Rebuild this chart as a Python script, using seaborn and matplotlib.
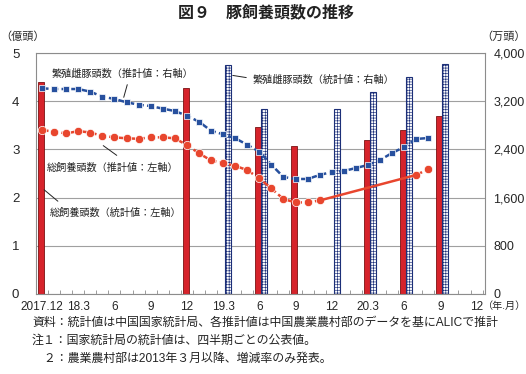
import numpy as np
import pandas as pd
import seaborn as sns
import matplotlib.pyplot as plt

# month index: 0 = 2017.12, one step per month
months = list(range(0, 33))

# 繁殖雌豚頭数（推計値、万頭）
sow_est = [3414, 3402, 3402, 3402, 3358, 3275, 3237, 3182, 3142, 3120, 3076, 3037,
           2959, 2860, 2710, 2651, 2584, 2478, 2362, 2146, 1942, 1909, 1909, 1975,
           2025, 2041, 2091, 2141, 2224, 2340, 2440, 2573, 2589]

# 総飼養頭数（推計値、億頭）; None = no monthly estimate
total_est = [3.40, 3.37, 3.33, 3.38, 3.35, 3.28, 3.25, 3.23, 3.22, 3.25, 3.25, 3.23,
             3.09, 2.92, 2.77, 2.72, 2.66, 2.57, 2.40, 2.19, 1.97, 1.90, 1.90, 1.94,
             None, None, None, None, None, None, None, 2.47, 2.59]

# 統計値 (quarterly, NBS)
total_stat_months = [0, 12, 18, 21, 27, 30, 33]
total_stat = [4.40, 4.27, 3.46, 3.07, 3.19, 3.40, 3.69]
sow_stat_months = [15, 18, 24, 27, 30, 33]
sow_stat = [3801, 3066, 3066, 3358, 3607, 3812]

tick_months = list(range(0, 37, 3))
tick_labels = ['2017.12', '18.3', '6', '9', '12', '19.3', '6', '9', '12',
               '20.3', '6', '9', '12']

RED = '#d6232b'
RED_LINE = '#e8462e'
BLUE = '#27509e'
NAVY = '#1c2f78'
GRAY = '#8c8c8c'

sns.set_theme(style='white')
plt.rcParams['font.family'] = ['Liberation Sans', 'Noto Sans CJK JP']
plt.rcParams['hatch.linewidth'] = 0.45
plt.rcParams['hatch.color'] = '#4a66b0'

W, H = 526, 374
fig = plt.figure(figsize=(W / 100, H / 100), dpi=100)


def px(x, y):
    return x / W, 1 - y / H


left, right, top, bottom = 36, 485, 53, 294
pos = [left / W, 1 - bottom / H, (right - left) / W, (bottom - top) / H]
ax = fig.add_axes(pos)
ax2 = ax.twinx()
ax3 = ax.twinx()

# bars
ax.bar(np.array(total_stat_months) - 0.1, total_stat, width=0.5, color=RED,
       edgecolor='#7a1212', linewidth=0.6, zorder=2)
ax2.bar(np.array(sow_stat_months) + 0.4, sow_stat, width=0.5, color='white',
        edgecolor=NAVY, linewidth=0.8, hatch='++++++', zorder=2)

# blue estimate line (right axis)
df_sow = pd.DataFrame({'m': months, 'v': sow_est})
sns.lineplot(data=df_sow, x='m', y='v', ax=ax2, color=BLUE, linewidth=1.8,
             linestyle=(0, (2.6, 1.3)), marker='s', markersize=5,
             markeredgecolor='white', markeredgewidth=0.5, zorder=5)

# red estimate line (left axis), split where monthly data is missing
df_tot = pd.DataFrame({'m': months, 'v': total_est}).astype(float)
runs = (df_tot['v'].isna() != df_tot['v'].isna().shift()).cumsum()
for _, seg in df_tot.dropna().groupby(runs[df_tot['v'].notna()]):
    sns.lineplot(data=seg, x='m', y='v', ax=ax3, color=RED_LINE, linewidth=1.8,
                 linestyle=(0, (2.6, 1.3)), marker='o', markersize=6,
                 markeredgecolor='white', markeredgewidth=0.5)
valid = df_tot.dropna()
gap = valid[valid['m'].diff() > 1].index[0]
prev = valid.index[valid.index.get_loc(gap) - 1]
sns.lineplot(x=[df_tot.loc[prev, 'm'], df_tot.loc[gap, 'm']],
             y=[df_tot.loc[prev, 'v'], df_tot.loc[gap, 'v']],
             ax=ax3, color=RED_LINE, linewidth=1.8)

# axes
for a in (ax, ax3):
    a.set_xlim(-0.25, 36.7)
    a.set_ylim(0, 5)
ax2.set_ylim(0, 4000)
ax3.axis('off')
for a in (ax, ax2, ax3):
    a.set_xlabel('')
    a.set_ylabel('')

ax.set_axisbelow(True)
ax.yaxis.grid(True, color='#a0a0a0', linewidth=0.8)
ax.set_yticks(range(6))
ax.tick_params(axis='y', length=0, pad=12, labelsize=9.5)
ax.set_xticks(tick_months, tick_labels)
ax.set_xticks(np.arange(-0.5, 37, 1), minor=True)
ax.tick_params(axis='x', which='major', length=0, pad=5, labelsize=8.5)
ax.tick_params(axis='x', which='minor', direction='in', length=3, width=0.6,
               color=GRAY, bottom=True)
ax2.set_yticks(range(0, 4001, 800), ['0', '800', '1,600', '2,400', '3,200', '4,000'])
ax2.tick_params(axis='y', length=0, pad=6, labelsize=9)
for s in ax.spines.values():
    s.set_visible(False)
for s in ax2.spines.values():
    s.set_color(GRAY)
    s.set_linewidth(0.8)

# titles and unit labels
fig.text(*px(266, 12), '図９　豚飼養頭数の推移', ha='center', va='center',
         fontsize=11.5, fontweight='bold', color='#222222')
fig.text(*px(0, 37), '（億頭）', ha='left', va='center', fontsize=8)
fig.text(*px(526, 37), '（万頭）', ha='right', va='center', fontsize=8)
fig.text(*px(526, 306), '（年.月）', ha='right', va='center', fontsize=7.3)

# series labels with leader lines
notes = [
    ('繁殖雌豚頭数（推計値：右軸）', (52, 74), (128, 82), (123, 100)),
    ('繁殖雌豚頭数（統計値：右軸）', (253, 80), (249, 78), (230, 75)),
    ('総飼養頭数（推計値：左軸）', (47, 168), (119, 157), (101, 144)),
    ('総飼養頭数（統計値：左軸）', (50, 213), (60, 203), (42, 188)),
]
for label, tpos, p0, p1 in notes:
    fig.text(*px(*tpos), label, ha='left', va='center', fontsize=7.3,
             color='#222222')
    ax.annotate('', xy=px(*p1), xytext=px(*p0), xycoords='figure fraction',
                textcoords='figure fraction',
                arrowprops=dict(arrowstyle='-', color='#222222', lw=0.7))

# footnotes
foot = [
    '資料：統計値は中国国家統計局、各推計値は中国農業農村部のデータを基にALICで推計',
    '注１：国家統計局の統計値は、四半期ごとの公表値。',
    '　２：農業農村部は2013年３月以降、増減率のみ発表。',
]
for i, line in enumerate(foot):
    fig.text(*px(32, 323 + i * 18), line, ha='left', va='center', fontsize=8.6,
             color='#222222')

fig.savefig('out.png', dpi=100)
